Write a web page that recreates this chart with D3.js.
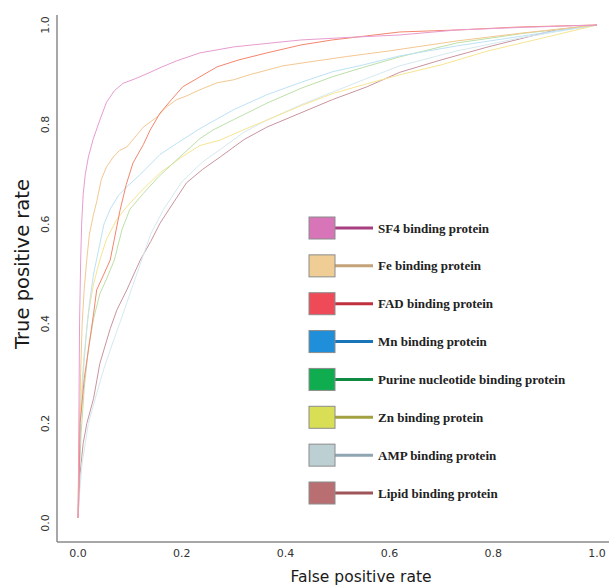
<!DOCTYPE html>
<html lang="en">
<head>
    <meta charset="UTF-8">
    <title>ROC curves</title>
    <script src="https://d3js.org/d3.v7.min.js"></script>
    <style>
        body { margin: 0; background: #fff; }
        .tick-label { font: 11px "DejaVu Sans", sans-serif; fill: #333; }
        .title { font-family: "DejaVu Sans", sans-serif; fill: #1a1a1a; }
        .curve { fill: none; stroke-width: 1px; }
        .legend text { font: bold 13px "Liberation Serif", "Times New Roman", serif; fill: #222; }
    </style>
</head>
<body>
<div id="chart"></div>
<script>
// ROC points [false positive rate, true positive rate]
const sf4 = [[0,0.01],[0.001,0.1],[0.002,0.25],[0.003,0.4],[0.005,0.52],[0.007,0.6],[0.01,0.66],[0.014,0.7],[0.02,0.735],[0.029,0.77],[0.042,0.809],[0.055,0.845],[0.07,0.868],[0.087,0.883],[0.11,0.892],[0.139,0.905],[0.16,0.915],[0.19,0.928],[0.235,0.944],[0.3,0.956],[0.364,0.963],[0.43,0.97],[0.52,0.975],[0.62,0.98],[0.73,0.99],[0.85,0.995],[1,1]];
const fe = [[0,0.01],[0.002,0.15],[0.005,0.3],[0.008,0.4],[0.012,0.47],[0.017,0.53],[0.022,0.58],[0.03,0.62],[0.036,0.645],[0.045,0.69],[0.055,0.715],[0.068,0.735],[0.08,0.748],[0.094,0.755],[0.11,0.775],[0.126,0.795],[0.152,0.815],[0.17,0.835],[0.19,0.85],[0.21,0.858],[0.235,0.87],[0.268,0.884],[0.3,0.89],[0.33,0.9],[0.395,0.918],[0.46,0.928],[0.52,0.937],[0.6,0.948],[0.73,0.968],[0.857,0.984],[1,1]];
const fad = [[0,0.01],[0.002,0.07],[0.004,0.2],[0.007,0.233],[0.012,0.29],[0.02,0.347],[0.03,0.42],[0.036,0.468],[0.05,0.5],[0.062,0.528],[0.07,0.57],[0.081,0.628],[0.093,0.68],[0.106,0.723],[0.126,0.76],[0.139,0.789],[0.158,0.823],[0.18,0.85],[0.202,0.876],[0.235,0.896],[0.268,0.916],[0.31,0.93],[0.364,0.944],[0.43,0.96],[0.49,0.97],[0.62,0.986],[0.73,0.99],[0.85,0.996],[1,1]];
const mn = [[0,0.01],[0.002,0.1],[0.005,0.2],[0.01,0.3],[0.016,0.38],[0.022,0.44],[0.03,0.5],[0.04,0.55],[0.05,0.6],[0.062,0.63],[0.078,0.658],[0.094,0.675],[0.12,0.7],[0.158,0.74],[0.19,0.762],[0.235,0.792],[0.3,0.83],[0.364,0.86],[0.43,0.885],[0.49,0.906],[0.55,0.92],[0.62,0.938],[0.73,0.958],[0.857,0.978],[1,1]];
const purine = [[0,0.01],[0.002,0.08],[0.006,0.18],[0.012,0.27],[0.02,0.35],[0.03,0.41],[0.042,0.46],[0.055,0.49],[0.07,0.528],[0.085,0.59],[0.1,0.63],[0.126,0.662],[0.155,0.695],[0.19,0.729],[0.235,0.772],[0.26,0.789],[0.3,0.81],[0.364,0.843],[0.43,0.873],[0.49,0.896],[0.55,0.915],[0.62,0.936],[0.73,0.964],[0.857,0.983],[1,1]];
const zn = [[0,0.01],[0.001,0.1],[0.003,0.2],[0.007,0.27],[0.012,0.34],[0.02,0.42],[0.03,0.48],[0.042,0.528],[0.055,0.57],[0.075,0.61],[0.094,0.635],[0.125,0.67],[0.158,0.703],[0.2,0.735],[0.235,0.758],[0.274,0.769],[0.32,0.79],[0.364,0.809],[0.43,0.838],[0.49,0.862],[0.55,0.88],[0.62,0.9],[0.7,0.92],[0.79,0.948],[0.9,0.975],[1,1]];
const amp = [[0,0.01],[0.003,0.06],[0.008,0.12],[0.02,0.2],[0.036,0.26],[0.05,0.31],[0.062,0.347],[0.08,0.4],[0.1,0.46],[0.12,0.52],[0.14,0.58],[0.165,0.63],[0.2,0.685],[0.24,0.725],[0.274,0.75],[0.32,0.785],[0.364,0.809],[0.43,0.84],[0.49,0.865],[0.55,0.89],[0.62,0.918],[0.73,0.948],[0.857,0.975],[1,1]];
const lipid = [[0,0.01],[0.002,0.05],[0.004,0.1],[0.01,0.16],[0.017,0.2],[0.03,0.25],[0.042,0.32],[0.062,0.39],[0.075,0.428],[0.094,0.468],[0.12,0.528],[0.14,0.565],[0.158,0.602],[0.185,0.645],[0.209,0.683],[0.24,0.71],[0.274,0.735],[0.32,0.77],[0.364,0.795],[0.428,0.823],[0.49,0.85],[0.557,0.876],[0.62,0.905],[0.7,0.93],[0.79,0.956],[0.92,0.99],[1,1]];

const labels = ["SF4 binding protein", "Fe binding protein", "FAD binding protein", "Mn binding protein",
    "Purine nucleotide binding protein", "Zn binding protein", "AMP binding protein", "Lipid binding protein"];
const series = [sf4, fe, fad, mn, purine, zn, amp, lipid];
const curveColors = ["#e89ccf", "#f3c892", "#f4866e", "#bde2f4", "#bde0a8", "#f7e592", "#d6e9f0", "#c9959f"];
const boxColors = ["#d874b8", "#f0cd94", "#ef4a58", "#1e8fd8", "#10ad50", "#d8df55", "#bccfd3", "#b96f72"];
const stemColors = ["#a8407f", "#c4a27a", "#c0303e", "#1a74b8", "#108a40", "#a2a040", "#8fa6b2", "#9e5458"];
const ticks = [0, 0.2, 0.4, 0.6, 0.8, 1.0];

const width = 609, height = 587;
const svg = d3.select("#chart").append("svg")
    .attr("width", width).attr("height", height);

const x = d3.scaleLinear().domain([0, 1]).range([78, 597]);
const y = d3.scaleLinear().domain([0, 1]).range([523, 25]);

// L-shaped frame
svg.append("line")
    .attr("x1", 57).attr("x2", 57).attr("y1", 15).attr("y2", 542)
    .attr("stroke", "#8a8a8a").attr("stroke-width", 1.5);
svg.append("line")
    .attr("x1", 57).attr("x2", width).attr("y1", 542).attr("y2", 542)
    .attr("stroke", "#8a8a8a").attr("stroke-width", 1.5);

svg.selectAll(".xtick").data(ticks).enter().append("text")
    .attr("class", "tick-label")
    .attr("x", d => x(d)).attr("y", 557)
    .attr("text-anchor", "middle")
    .text(d => d.toFixed(1));

svg.selectAll(".ytick").data(ticks).enter().append("text")
    .attr("class", "tick-label")
    .attr("transform", d => `translate(49,${y(d)}) rotate(-90)`)
    .attr("text-anchor", "middle")
    .text(d => d.toFixed(1));

svg.append("text").attr("class", "title")
    .attr("x", 361).attr("y", 582)
    .attr("text-anchor", "middle")
    .style("font-size", "15.5px")
    .text("False positive rate");

svg.append("text").attr("class", "title")
    .attr("transform", "translate(29,264) rotate(-90)")
    .attr("text-anchor", "middle")
    .style("font-size", "19.5px")
    .text("True positive rate");

const line = d3.line().x(d => x(d[0])).y(d => y(d[1]));

// draw back to front so the strong curves stay on top
const order = [7, 6, 5, 4, 3, 1, 2, 0];
svg.selectAll(".curve").data(order).enter().append("path")
    .attr("class", "curve")
    .attr("stroke", i => curveColors[i])
    .attr("d", i => line(series[i]));

const legend = svg.append("g").attr("class", "legend");
const rowY = d3.scaleLinear().domain([0, 7]).range([228, 493]);
const rows = legend.selectAll("g").data(labels).enter().append("g")
    .attr("transform", (d, i) => `translate(0,${rowY(i)})`);

rows.append("line")
    .attr("x1", 335).attr("x2", 373).attr("y1", 0).attr("y2", 0)
    .attr("stroke", (d, i) => stemColors[i]).attr("stroke-width", 3);
rows.append("rect")
    .attr("x", 309).attr("y", -11).attr("width", 26).attr("height", 22)
    .attr("fill", (d, i) => boxColors[i])
    .attr("stroke", "#8c8c8c").attr("stroke-width", 1);
rows.append("text")
    .attr("x", 378).attr("y", 4.5)
    .text(d => d);
</script>
</body>
</html>
